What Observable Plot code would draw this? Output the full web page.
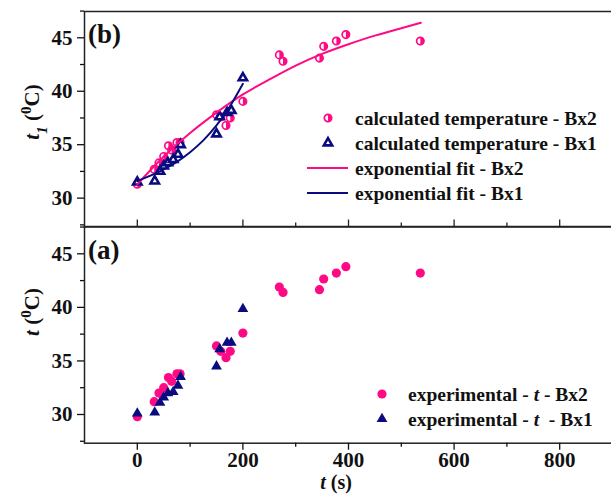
<!DOCTYPE html>
<html><head><meta charset="utf-8">
<script src="https://cdn.jsdelivr.net/npm/d3@7"></script>
<script src="https://cdn.jsdelivr.net/npm/@observablehq/plot@0.6"></script>
<style>
html,body{margin:0;padding:0;background:#fff;overflow:hidden;}
#wrap{position:relative;width:611px;height:494px;overflow:hidden;background:#fff;}
#wrap svg{position:absolute;left:0;}
</style></head><body><div id="wrap"></div>
<script>
// ---- data ----
const timeBx2 = [0, 32, 41, 50, 59, 65, 75, 81, 150, 158, 168, 176, 200, 269, 276, 345, 353, 377, 395, 536];
const calcBx2 = [31.3, 32.7, 33.3, 33.9, 34.9, 34.5, 35.2, 35.2, 37.8, 37.6, 36.8, 37.5, 39.05, 43.4, 42.8, 43.1, 44.2, 44.7, 45.3, 44.7];
const expBx2  = [29.8, 31.2, 32.0, 32.5, 33.45, 33.1, 33.8, 33.8, 36.4, 35.9, 35.3, 35.9, 37.6, 41.9, 41.4, 41.65, 42.65, 43.2, 43.8, 43.2];
const timeBx1 = [0, 33, 43, 50, 58, 68, 77, 82, 150, 156, 170, 178, 200];
const calcBx1 = [31.5, 31.6, 32.5, 33.0, 33.3, 33.6, 34.1, 35.0, 36.0, 37.6, 38.0, 38.2, 41.25];
const expBx1  = [30.1, 30.2, 31.1, 31.6, 32.0, 32.1, 32.7, 33.5, 34.5, 36.1, 36.7, 36.7, 39.85];
const fitTimeBx2 = [0, 50, 100, 150, 200, 250, 300, 350, 400, 450, 500, 537];
const fitBx2     = [31.3, 33.9, 36.1, 38.0, 39.7, 41.1, 42.4, 43.5, 44.4, 45.2, 45.9, 46.4];
const fitTimeBx1 = [0, 25, 50, 75, 100, 125, 150, 175, 200];
const fitBx1     = [31.6, 32.1, 32.7, 33.4, 34.3, 35.4, 36.8, 38.55, 40.7];
const yTicks = [30, 35, 40, 45];
const yMinor = [27.5, 32.5, 37.5, 42.5, 47.5];
const xTicks = [0, 200, 400, 600, 800];
const xMinor = [100, 300, 500, 700];
const topLegend = ["calculated temperature - Bx2", "calculated temperature - Bx1", "exponential fit - Bx2", "exponential fit - Bx1"];
const panelLabels = ["(b)", "(a)"];

const pink = "#ff0a85", navy = "#0b0b80", ink = "#111";
const font = "'Liberation Serif','Times New Roman',serif";

const calc2 = timeBx2.map((t, i) => ({t, v: calcBx2[i]}));
const exp2 = timeBx2.map((t, i) => ({t, v: expBx2[i]}));
const calc1 = timeBx1.map((t, i) => ({t, v: calcBx1[i]}));
const exp1 = timeBx1.map((t, i) => ({t, v: expBx1[i]}));
const fit2 = fitTimeBx2.map((t, i) => ({t, v: fitBx2[i]}));
const fit1 = fitTimeBx1.map((t, i) => ({t, v: fitBx1[i]}));

const halfRight = {draw(ctx, size) {
  const r = Math.sqrt(size / Math.PI);
  ctx.moveTo(0, -r); ctx.arc(0, 0, r, -Math.PI / 2, Math.PI / 2); ctx.closePath();
}};

const wrap = document.getElementById("wrap");
const baseStyle = {background: "none", maxWidth: "none", overflow: "visible", fontFamily: font, fontWeight: "bold", color: ink};

function yAxes() {
  return [
    Plot.axisY(yTicks, {anchor: "left", tickSize: 7, tickPadding: 5, fontSize: 21, fontWeight: "bold", label: null, strokeWidth: 1.3}),
    Plot.axisY(yMinor, {anchor: "left", tickSize: 4, tickFormat: () => "", label: null, strokeWidth: 1.3})
  ];
}

// ---- top panel (b) ----
const topH = 227, topMT = 11, topMB = 0.5, topFrame = topH - topMT - topMB;
const topSvg = Plot.plot({
  width: 613, height: topH, marginLeft: 84, marginRight: 1, marginTop: topMT, marginBottom: topMB,
  x: {domain: [-100, 900], axis: null},
  y: {domain: [27.3, 47.46]},
  style: baseStyle,
  marks: [
    Plot.frame({stroke: "#222", strokeWidth: 1.5}),
    ...yAxes(),
    Plot.tickX(xTicks, {x: d => d, insetTop: topFrame - 7, stroke: "#222", strokeWidth: 1.3}),
    Plot.tickX(xMinor, {x: d => d, insetTop: topFrame - 4, stroke: "#222", strokeWidth: 1.3}),
    Plot.dot(calc2, {x: "t", y: "v", r: 3.7, symbol: halfRight, fill: pink}),
    Plot.dot(calc2, {x: "t", y: "v", r: 3.7, stroke: pink, strokeWidth: 1.7}),
    Plot.dot(calc1, {x: "t", y: "v", r: 3.1, symbol: "triangle", fill: "white", stroke: navy, strokeWidth: 2.6}),
    Plot.line(fit2, {x: "t", y: "v", stroke: pink, strokeWidth: 2, curve: "natural"}),
    Plot.line(fit1, {x: "t", y: "v", stroke: navy, strokeWidth: 2, curve: "natural"})
  ]
});
topSvg.style.top = "0px";
wrap.appendChild(topSvg);

// ---- bottom panel (a) ----
const botOff = 200, botH = 294, botMT = 26, botMB = 51.3;
const botSvg = Plot.plot({
  width: 613, height: botH, marginLeft: 84, marginRight: 1, marginTop: botMT, marginBottom: botMB,
  x: {domain: [-100, 900]},
  y: {domain: [27.32, 47.55]},
  style: baseStyle,
  marks: [
    Plot.frame({stroke: "#222", strokeWidth: 1.5}),
    ...yAxes(),
    Plot.axisX(xTicks, {anchor: "bottom", tickSize: 7, tickPadding: 2, fontSize: 21, fontWeight: "bold", label: null, strokeWidth: 1.3}),
    Plot.axisX(xMinor, {anchor: "bottom", tickSize: 4, tickFormat: () => "", label: null, strokeWidth: 1.3}),
    Plot.dot(exp2, {x: "t", y: "v", r: 4.6, fill: pink}),
    Plot.dot(exp1, {x: "t", y: "v", r: 4.0, symbol: "triangle", fill: navy})
  ]
});
botSvg.style.top = botOff + "px";
wrap.appendChild(botSvg);

// ---- text helpers ----
function rich(svg, parts, {x, y, rotate = 0, anchor = "start", size = 20}) {
  const t = d3.select(svg).append("text")
    .attr("transform", `translate(${x},${y}) rotate(${rotate})`)
    .attr("text-anchor", anchor).attr("font-family", font).attr("font-weight", "bold")
    .attr("font-size", size).attr("fill", ink).style("white-space", "pre");
  for (const p of parts) {
    const s = t.append("tspan").text(p.t);
    if (p.i) s.attr("font-style", "italic");
    if (p.sup) s.attr("baseline-shift", "super").attr("font-size", size * 0.72);
    if (p.sub) s.attr("baseline-shift", "sub").attr("font-size", size * 0.72);
  }
  return t;
}
function marker(svg, type, x, y, size, attrs) {
  const p = d3.select(svg).append("path")
    .attr("transform", `translate(${x},${y})`)
    .attr("d", d3.symbol(type, size)());
  for (const k in attrs) p.attr(k, attrs[k]);
}

// panel labels
rich(topSvg, [{t: panelLabels[0]}], {x: 88, y: 43, size: 27});
rich(botSvg, [{t: panelLabels[1]}], {x: 88, y: 259 - botOff, size: 27});

// y titles
rich(topSvg, [{t: "t", i: true}, {t: "1", i: true, sub: true}, {t: " ("}, {t: "0", sup: true}, {t: "C)"}], {x: 39, y: 112, rotate: -90, anchor: "middle", size: 21});
rich(botSvg, [{t: "t", i: true}, {t: " ("}, {t: "0", sup: true}, {t: "C)"}], {x: 39, y: 312 - botOff, rotate: -90, anchor: "middle", size: 21});
// x title
rich(botSvg, [{t: "t", i: true}, {t: " (s)"}], {x: 336, y: 488.5 - botOff, anchor: "middle", size: 20});

// top legend
const lgY = [118, 143, 168, 193];
marker(topSvg, halfRight, 328, lgY[0], Math.PI * 3.7 * 3.7, {fill: pink});
marker(topSvg, d3.symbolCircle, 328, lgY[0], Math.PI * 3.7 * 3.7, {fill: "none", stroke: pink, "stroke-width": 1.7});
marker(topSvg, d3.symbolTriangle, 328, lgY[1], Math.PI * 3.1 * 3.1, {fill: "white", stroke: navy, "stroke-width": 2.6});
d3.select(topSvg).append("line").attr("x1", 307).attr("x2", 348).attr("y1", lgY[2]).attr("y2", lgY[2]).attr("stroke", pink).attr("stroke-width", 2);
d3.select(topSvg).append("line").attr("x1", 307).attr("x2", 348).attr("y1", lgY[3]).attr("y2", lgY[3]).attr("stroke", navy).attr("stroke-width", 2);
topLegend.forEach((s, i) => rich(topSvg, [{t: s}], {x: 355, y: lgY[i] + 6.5, size: 19.5}));

// bottom legend
const lbY = [394 - botOff, 419 - botOff];
marker(botSvg, d3.symbolCircle, 382, lbY[0], Math.PI * 4.6 * 4.6, {fill: pink});
marker(botSvg, d3.symbolTriangle, 382, lbY[1], Math.PI * 4 * 4, {fill: navy});
rich(botSvg, [{t: "experimental - "}, {t: "t", i: true}, {t: " - Bx2"}], {x: 408, y: lbY[0] + 6.5, size: 19.5});
rich(botSvg, [{t: "experimental - "}, {t: "t", i: true}, {t: "  - Bx1"}], {x: 408, y: lbY[1] + 6.5, size: 19.5});
</script></body></html>
